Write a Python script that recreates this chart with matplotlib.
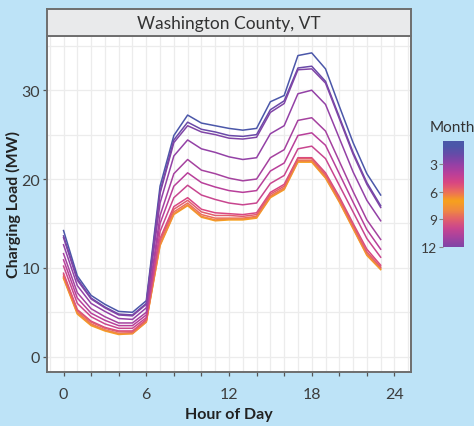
import numpy as np
import matplotlib
matplotlib.use("Agg")
import matplotlib.pyplot as plt
from matplotlib.colors import LinearSegmentedColormap, Normalize
from matplotlib.ticker import MultipleLocator, FixedLocator

plt.rcParams['font.family'] = ['Lato', 'DejaVu Sans']

hours = list(range(24))
months = list(range(1, 13))
load = {
    1: [14.2, 9.1, 6.9, 5.9, 5.1, 5.0, 6.3, 19.2, 24.9, 27.2, 26.3, 26.0, 25.7, 25.5, 25.7, 28.7, 29.4, 33.9, 34.2, 32.4, 28.2, 24.1, 20.6, 18.2],
    2: [13.6, 8.8, 6.6, 5.6, 4.8, 4.7, 6.0, 18.6, 24.4, 26.4, 25.6, 25.3, 24.9, 24.8, 25.0, 27.8, 28.8, 32.5, 32.7, 31.0, 27.0, 23.0, 19.6, 17.0],
    3: [12.6, 8.0, 6.0, 5.1, 4.3, 4.2, 5.5, 17.3, 22.6, 24.4, 23.4, 23.0, 22.5, 22.2, 22.4, 25.1, 26.0, 29.6, 30.0, 28.4, 24.6, 20.8, 17.6, 15.3],
    4: [10.9, 6.6, 4.9, 4.1, 3.5, 3.5, 4.7, 15.0, 19.2, 20.7, 19.6, 19.1, 18.7, 18.5, 18.7, 20.9, 21.8, 24.9, 25.2, 23.8, 20.6, 17.4, 14.3, 12.1],
    5: [9.4, 5.3, 4.0, 3.3, 2.9, 2.9, 4.2, 13.3, 16.9, 17.9, 16.6, 16.2, 16.1, 16.0, 16.2, 18.5, 19.4, 22.4, 22.4, 20.7, 18.0, 15.0, 12.1, 10.3],
    6: [9.0, 5.0, 3.7, 3.0, 2.6, 2.7, 4.0, 12.8, 16.3, 17.3, 16.0, 15.6, 15.6, 15.6, 15.8, 18.1, 19.0, 22.1, 22.1, 20.3, 17.6, 14.6, 11.6, 10.0],
    7: [8.8, 4.8, 3.5, 2.9, 2.5, 2.6, 3.9, 12.5, 16.0, 17.0, 15.7, 15.3, 15.4, 15.4, 15.6, 17.9, 18.8, 21.9, 21.9, 20.1, 17.4, 14.4, 11.4, 9.8],
    8: [8.9, 4.9, 3.6, 3.0, 2.6, 2.6, 3.9, 12.6, 16.1, 17.1, 15.8, 15.4, 15.5, 15.5, 15.7, 18.0, 18.9, 22.0, 22.0, 20.2, 17.5, 14.5, 11.5, 9.9],
    9: [9.2, 5.2, 3.9, 3.2, 2.8, 2.8, 4.1, 13.1, 16.6, 17.6, 16.3, 15.9, 15.9, 15.8, 16.0, 18.3, 19.2, 22.3, 22.3, 20.5, 17.8, 14.8, 11.8, 10.1],
    10: [10.2, 6.0, 4.5, 3.7, 3.2, 3.2, 4.4, 14.1, 17.9, 19.3, 18.2, 17.7, 17.3, 17.1, 17.3, 19.5, 20.4, 23.4, 23.7, 22.3, 19.3, 16.3, 13.3, 11.2],
    11: [11.6, 7.2, 5.4, 4.5, 3.8, 3.8, 5.0, 15.9, 20.6, 22.2, 21.0, 20.6, 20.1, 19.8, 20.0, 22.4, 23.3, 26.6, 26.9, 25.4, 22.0, 18.6, 15.4, 13.2],
    12: [13.4, 8.6, 6.5, 5.5, 4.7, 4.6, 5.9, 18.4, 24.1, 26.0, 25.3, 25.0, 24.6, 24.5, 24.7, 27.5, 28.5, 32.3, 32.4, 30.8, 26.8, 22.8, 19.4, 16.8],
}
x_ticks = [0, 6, 12, 18, 24]
y_ticks = [0, 10, 20, 30]
cbar_ticks = [3, 6, 9, 12]
title = "Washington County, VT"

month_colors = ['#4b57a9', '#6a4aa8', '#9441a6', '#b93f9a', '#d94682', '#ec6d5c',
                '#f7a11d', '#f08a40', '#e2606c', '#c9468f', '#a5429f', '#8045a6']
cmap = LinearSegmentedColormap.from_list('month', month_colors)
norm = Normalize(1, 12, clip=True)

BG = '#bde3f7'
fig = plt.figure(figsize=(4.74, 4.27), dpi=100, facecolor=BG)
ax = fig.add_axes([47/474, 1-373/427, (411-47)/474, (373-37)/427])
ax.set_facecolor('white')

for m in months:
    ax.plot(hours, load[m], color=cmap(norm(m)), lw=1.1, zorder=3)

ax.set_xlim(-1.2, 25.2)
ax.set_ylim(-1.72, 36.1)
ax.xaxis.set_minor_locator(MultipleLocator(1))
ax.set_xticks(list(range(0, 25, 2)))
ax.set_xticklabels([str(h) if h in x_ticks else '' for h in range(0, 25, 2)])
ax.yaxis.set_major_locator(FixedLocator(y_ticks))
ax.yaxis.set_minor_locator(FixedLocator([5, 15, 25, 35]))
ax.grid(which='both', color='#ececec', lw=0.9, zorder=0)
ax.set_axisbelow(True)
ax.tick_params(which='major', length=3, width=0.9, color='#555555', labelcolor='#3d3d3d', labelsize=11.5, pad=2)
ax.tick_params(axis='x', which='major', pad=8)
ax.tick_params(which='minor', length=0)
for s in ax.spines.values():
    s.set_color('#6e6e6e')
    s.set_linewidth(1.4)

ax.set_xlabel('Hour of Day', fontsize=11.5, fontweight='bold', color='#222222', labelpad=4)
ax.set_ylabel('Charging Load (MW)', fontsize=11.5, fontweight='bold', color='#222222', labelpad=0)

# strip
sax = fig.add_axes([47/474, 1-37/427, (411-47)/474, 27/427])
sax.set_facecolor('#e9eaeb')
sax.set_xticks([]); sax.set_yticks([])
for s in sax.spines.values():
    s.set_color('#6e6e6e')
    s.set_linewidth(1.4)
sax.text(0.5, 0.5, title, ha='center', va='center', fontsize=12.5, color='#333333', transform=sax.transAxes)

# colorbar
cax = fig.add_axes([443/474, 1-248/427, 21/474, 106/427])
grad = np.linspace(0.5, 12, 256).reshape(-1, 1)
cax.imshow(grad, aspect='auto', cmap=cmap, norm=norm, extent=[0, 1, 12, 0.5])
cax.set_ylim(12, 0.5)
cax.set_xlim(0, 1)
cax.set_xticks([])
cax.yaxis.tick_left()
cax.set_yticks(cbar_ticks)
cax.tick_params(length=3, width=0.8, color='#888888', labelcolor='#3d3d3d', labelsize=10, pad=1)
for s in cax.spines.values():
    s.set_visible(False)
fig.text(430/474, 1-128/427, 'Month', fontsize=11, color='#333333', ha='left', va='center')

fig.savefig('out.png', dpi=100, facecolor=BG)
